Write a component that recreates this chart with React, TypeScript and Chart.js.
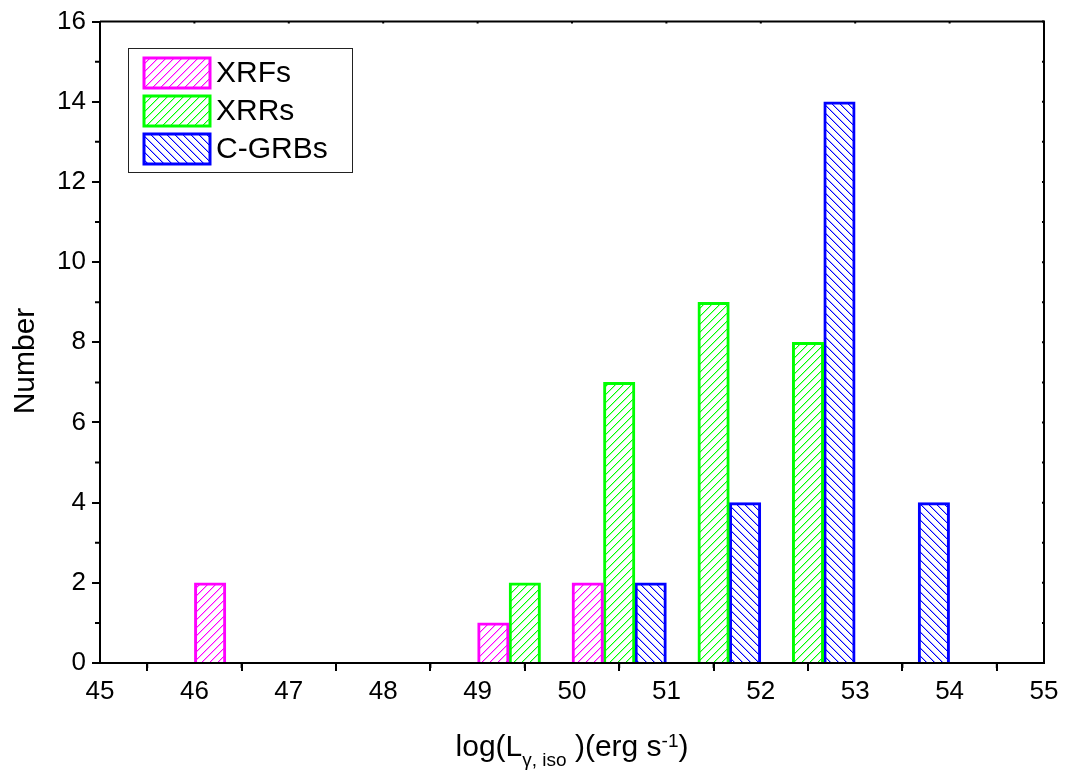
import React, { useEffect, useRef } from 'react';
import { Chart, registerables } from 'chart.js';

Chart.register(...registerables);

// ---- data ----
const seriesNames = ['XRFs', 'XRRs', 'C-GRBs'];
const seriesColors = ['#FF00FF', '#00FF00', '#0000FF'];
const hatchDirs = ['/', '/', '\\'];
// each bin of width 1 is split in three sub-columns: XRFs, XRRs, C-GRBs
const xrfBins = [46, 49, 50];
const xrfCounts = [2, 1, 2];
const xrrBins = [49, 50, 51, 52];
const xrrCounts = [2, 7, 9, 8];
const cgrbBins = [50, 51, 52, 53];
const cgrbCounts = [2, 4, 14, 4];
const xMin = 45;
const xMax = 55;
const yMin = 0;
const yMax = 16;

const FONT = '"Liberation Sans", Arial, Helvetica, sans-serif';

function makeHatch(color: string, dir: string): CanvasPattern | string {
  const s = 8;
  const c = document.createElement('canvas');
  c.width = s;
  c.height = s;
  const g = c.getContext('2d');
  if (!g) return '#fff';
  g.fillStyle = '#ffffff';
  g.fillRect(0, 0, s, s);
  for (let i = 0; i < s; i++) {
    const y = dir === '/' ? s - 1 - i : i;
    g.globalAlpha = 1;
    g.fillStyle = color;
    g.fillRect(i, y, 1, 1);
    g.globalAlpha = 0.35;
    g.fillRect((i + 1) % s, y, 1, 1);
  }
  g.globalAlpha = 1;
  const p = g.createPattern(c, 'repeat');
  return p || '#fff';
}

const framePlugin = {
  id: 'frameAndTitles',
  afterDraw(chart: any) {
    const { ctx, chartArea } = chart;
    const { left, right, top, bottom } = chartArea;
    const xs = chart.scales.x;
    const ys = chart.scales.y;
    ctx.save();
    ctx.strokeStyle = '#000';
    ctx.lineWidth = 2;
    // top and right frame
    ctx.beginPath();
    ctx.moveTo(left, top);
    ctx.lineTo(right, top);
    ctx.lineTo(right, bottom);
    ctx.stroke();
    // minor ticks
    ctx.beginPath();
    for (let v = xMin + 0.5; v < xMax; v += 1) {
      const px = xs.getPixelForValue(v);
      ctx.moveTo(px, bottom);
      ctx.lineTo(px, bottom + 5);
    }
    for (let v = yMin + 1; v < yMax; v += 2) {
      const py = ys.getPixelForValue(v);
      ctx.moveTo(left, py);
      ctx.lineTo(left - 5, py);
    }
    // small inward ticks on top and right
    for (let v = xMin; v <= xMax; v += 1) {
      const px = xs.getPixelForValue(v);
      ctx.moveTo(px, top);
      ctx.lineTo(px, top + 2);
    }
    for (let v = yMin; v <= yMax; v += 1) {
      const py = ys.getPixelForValue(v);
      ctx.moveTo(right, py);
      ctx.lineTo(right - 2, py);
    }
    ctx.stroke();

    // y title
    ctx.fillStyle = '#000';
    ctx.save();
    ctx.translate(26, 361);
    ctx.rotate(-Math.PI / 2);
    ctx.font = `30px ${FONT}`;
    ctx.textAlign = 'center';
    ctx.textBaseline = 'middle';
    ctx.fillText('Number', 0, 0);
    ctx.restore();

    // x title with sub/superscripts
    const big = `30px ${FONT}`;
    const small = `19px ${FONT}`;
    const parts = [
      { t: 'log(L', f: big, dy: 0 },
      { t: '\u03b3, iso', f: small, dy: 10 },
      { t: ' )(erg s', f: big, dy: 0 },
      { t: '-1', f: small, dy: -9 },
      { t: ')', f: big, dy: 0 },
    ];
    let total = 0;
    for (const p of parts) {
      ctx.font = p.f;
      total += ctx.measureText(p.t).width;
    }
    let x = (left + right) / 2 - total / 2;
    const baseY = 756;
    ctx.textAlign = 'left';
    ctx.textBaseline = 'alphabetic';
    for (const p of parts) {
      ctx.font = p.f;
      ctx.fillText(p.t, x, baseY + p.dy);
      x += ctx.measureText(p.t).width;
    }

    // legend
    const lx = 128, ly = 48, lw = 224, lh = 124;
    ctx.fillStyle = '#fff';
    ctx.fillRect(lx, ly, lw, lh);
    ctx.strokeStyle = '#222';
    ctx.lineWidth = 1;
    ctx.strokeRect(lx + 0.5, ly + 0.5, lw, lh);
    chart.data.datasets.forEach((ds: any, i: number) => {
      const sy = 58 + i * 38;
      ctx.fillStyle = ds.backgroundColor;
      ctx.fillRect(144, sy, 66, 30);
      ctx.strokeStyle = ds.borderColor;
      ctx.lineWidth = 3;
      ctx.strokeRect(144, sy, 66, 30);
      ctx.fillStyle = '#000';
      ctx.font = `30px ${FONT}`;
      ctx.textBaseline = 'middle';
      ctx.fillText(ds.label, 216, sy + 16);
    });
    ctx.restore();
  },
};

export default function App() {
  const ref = useRef<HTMLCanvasElement | null>(null);
  useEffect(() => {
    document.body.style.margin = '0';
    const canvas = ref.current;
    if (!canvas) return;
    const ctx = canvas.getContext('2d');
    if (!ctx) return;
    const groups = [
      { bins: xrfBins, counts: xrfCounts },
      { bins: xrrBins, counts: xrrCounts },
      { bins: cgrbBins, counts: cgrbCounts },
    ];
    const datasets = groups.map((g, i) => ({
      label: seriesNames[i],
      data: g.bins.map((b, j) => ({ x: b + (i + 0.5) / 3, y: g.counts[j] })),
      backgroundColor: makeHatch(seriesColors[i], hatchDirs[i]),
      borderColor: seriesColors[i],
      borderWidth: 3,
      borderSkipped: 'start',
      grouped: false,
      barPercentage: 1,
      categoryPercentage: 1,
    }));
    const chart = new Chart(ctx, {
      type: 'bar',
      data: { datasets: datasets as any },
      options: {
        responsive: false,
        animation: false,
        layout: { padding: { left: 0, top: 20, right: 24, bottom: 0 } },
        plugins: { legend: { display: false }, tooltip: { enabled: false } },
        scales: {
          x: {
            type: 'linear',
            min: xMin,
            max: xMax,
            offset: false,
            afterFit: (s: any) => { s.height = 111; },
            grid: {
              display: true,
              drawOnChartArea: false,
              drawTicks: true,
              tickLength: 8,
              color: '#000',
              lineWidth: 2,
            },
            border: { display: true, color: '#000', width: 2 },
            ticks: {
              stepSize: 1,
              color: '#000',
              padding: 5,
              maxRotation: 0,
              font: { family: FONT, size: 26 },
            },
          },
          y: {
            min: yMin,
            max: yMax,
            afterFit: (s: any) => { s.width = 100; },
            grid: {
              display: true,
              drawOnChartArea: false,
              drawTicks: true,
              tickLength: 8,
              color: '#000',
              lineWidth: 2,
            },
            border: { display: true, color: '#000', width: 2 },
            ticks: {
              stepSize: 2,
              color: '#000',
              padding: 6,
              font: { family: FONT, size: 26 },
            },
          },
        },
      },
      plugins: [framePlugin],
    });
    return () => chart.destroy();
  }, []);
  return (
    <div style={{ position: 'fixed', left: 0, top: 0, width: 1068, height: 774, background: '#fff' }}>
      <canvas ref={ref} width={1068} height={774} style={{ display: 'block' }} />
    </div>
  );
}
